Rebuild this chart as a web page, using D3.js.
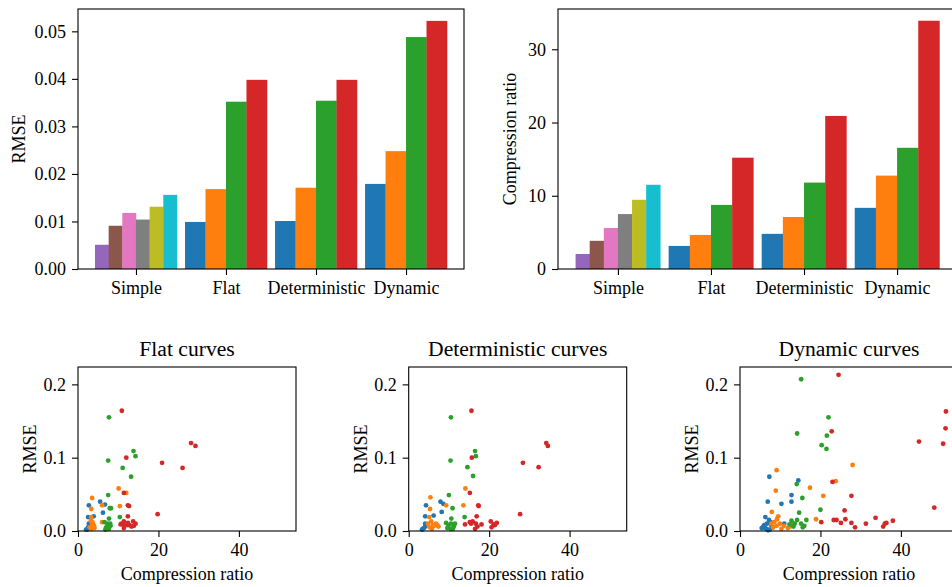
<!DOCTYPE html>
<html>
<head>
<meta charset="utf-8">
<script src="https://cdn.jsdelivr.net/npm/d3@7"></script>
<style>
  body { margin: 0; background: #fff; }
  svg { font-family: "Liberation Serif", serif; }
  .tick text { font-family: "Liberation Serif", serif; font-size: 18px; fill: #000; }
  .tick line { stroke: #000; stroke-width: 1.1; }
  .domain { display: none; }
</style>
</head>
<body>
<div id="wrapper"></div>
<script>
// bar charts
const groups = ["Simple", "Flat", "Deterministic", "Dynamic"];
const simpleColors = ["#9467bd", "#8c564b", "#e377c2", "#7f7f7f", "#bcbd22", "#17becf"];
const methodColors = ["#1f77b4", "#ff7f0e", "#2ca02c", "#d62728"];

const simpleRmse = [0.0051, 0.0091, 0.0118, 0.0104, 0.0131, 0.0156];
const flatRmse = [0.0099, 0.0168, 0.0352, 0.0398];
const detRmse = [0.0101, 0.0171, 0.0354, 0.0398];
const dynRmse = [0.0179, 0.0248, 0.0488, 0.0522];

const simpleRatio = [2.05, 3.85, 5.6, 7.5, 9.45, 11.5];
const flatRatio = [3.15, 4.65, 8.75, 15.2];
const detRatio = [4.8, 7.1, 11.8, 20.9];
const dynRatio = [8.35, 12.75, 16.55, 33.9];

const rmseTicks = [0, 0.01, 0.02, 0.03, 0.04, 0.05];
const ratioTicks = [0, 10, 20, 30];

// scatter panels: [compression ratio, RMSE]
const flatBlue = [[5.5,0.040],[6.7,0.036],[2.7,0.035],[6.2,0.025],[2.5,0.019],[3.9,0.020],[2.7,0.010],[2.3,0.002],[2.9,0.006],[2.5,0.005],[2.0,0.002],[3.2,0.008]];
const flatOrange = [[10.1,0.058],[12.0,0.052],[3.5,0.045],[10.4,0.034],[6.0,0.035],[3.3,0.030],[6.0,0.012],[3.3,0.019],[3.2,0.014],[3.5,0.010],[3.7,0.006],[3.3,0.003],[4.0,0.007],[2.9,0.005],[3.6,0.012],[4.1,0.004],[3.8,0.009]];
const flatGreen = [[7.7,0.155],[13.8,0.109],[14.3,0.102],[7.5,0.096],[11.1,0.086],[13.2,0.074],[7.5,0.049],[7.9,0.031],[8.2,0.031],[10.4,0.019],[7.7,0.017],[6.6,0.012],[7.3,0.010],[8.0,0.010],[7.0,0.005],[7.7,0.003],[8.1,0.007],[6.8,0.002],[7.5,0.006]];
const flatRed = [[10.9,0.164],[28.1,0.120],[29.2,0.116],[12.0,0.100],[20.9,0.093],[26.0,0.086],[11.4,0.052],[12.4,0.035],[12.7,0.034],[19.8,0.023],[12.4,0.020],[10.8,0.010],[11.4,0.013],[11.2,0.009],[12.2,0.008],[12.8,0.008],[13.7,0.013],[14.3,0.010],[13.9,0.007],[11.4,0.004],[13.3,0.006],[10.6,0.009],[12.4,0.011]];

const detBlue = [[7.9,0.040],[8.6,0.037],[4.3,0.035],[8.2,0.026],[4.1,0.020],[6.2,0.021],[4.1,0.010],[3.5,0.003],[4.1,0.006],[3.3,0.002],[3.8,0.004]];
const detOrange = [[14.1,0.058],[5.4,0.046],[13.6,0.035],[9.3,0.035],[5.3,0.030],[5.1,0.019],[4.8,0.010],[5.6,0.013],[6.3,0.007],[7.1,0.008],[7.4,0.006],[5.2,0.005],[5.8,0.003],[6.8,0.010],[6.0,0.008]];
const detGreen = [[10.5,0.155],[16.5,0.109],[16.7,0.102],[10.4,0.096],[14.6,0.087],[16.0,0.075],[10.0,0.049],[10.9,0.031],[13.9,0.019],[10.6,0.017],[9.3,0.011],[9.9,0.008],[10.5,0.010],[11.2,0.006],[11.5,0.010],[9.6,0.004],[10.4,0.003],[11.0,0.003]];
const detRed = [[15.6,0.164],[34.2,0.120],[34.6,0.116],[15.7,0.100],[28.4,0.093],[32.3,0.087],[15.2,0.052],[17.3,0.035],[17.4,0.034],[16.9,0.020],[27.7,0.023],[14.0,0.009],[15.2,0.012],[15.9,0.013],[16.7,0.010],[17.1,0.006],[18.1,0.009],[16.5,0.003],[15.5,0.010],[20.4,0.013],[21.1,0.009],[21.9,0.011],[20.6,0.005],[21.4,0.008]];

const dynBlue = [[7.3,0.074],[14.5,0.069],[12.8,0.049],[6.9,0.040],[12.8,0.040],[10.3,0.037],[6.3,0.019],[7.2,0.015],[11.0,0.010],[5.8,0.006],[6.2,0.004],[6.7,0.010],[7.4,0.002],[8.2,0.005],[5.4,0.004],[6.6,0.003],[7.8,0.007],[7.0,0.001],[6.0,0.008],[7.6,0.012]];
const dynOrange = [[28.0,0.090],[9.1,0.083],[23.8,0.068],[17.4,0.059],[8.9,0.055],[20.7,0.048],[7.9,0.026],[18.9,0.016],[9.5,0.020],[9.2,0.016],[7.8,0.010],[8.5,0.012],[9.1,0.007],[9.9,0.010],[10.9,0.007],[11.9,0.004],[13.2,0.010],[8.2,0.005],[10.3,0.003],[12.5,0.006]];
const dynGreen = [[15.2,0.207],[22.0,0.155],[14.2,0.133],[21.6,0.130],[20.3,0.117],[21.5,0.112],[14.1,0.064],[15.5,0.045],[14.7,0.025],[20.0,0.029],[12.8,0.014],[13.6,0.010],[14.2,0.015],[15.2,0.010],[16.0,0.007],[16.5,0.015],[12.3,0.009],[13.3,0.006],[15.6,0.005]];
const dynRed = [[24.5,0.213],[51.2,0.163],[51.1,0.140],[22.8,0.136],[44.5,0.122],[50.5,0.119],[23.0,0.067],[27.7,0.048],[48.3,0.032],[26.0,0.028],[20.2,0.012],[23.3,0.015],[24.0,0.015],[25.1,0.011],[26.2,0.016],[27.7,0.011],[28.6,0.005],[31.3,0.010],[33.7,0.018],[36.0,0.010],[36.4,0.011],[35.6,0.006],[38.0,0.014]];

const scatterTitles = ["Flat curves", "Deterministic curves", "Dynamic curves"];
const scatterXTicks = [0, 20, 40];
const scatterYTicks = [0, 0.1, 0.2];

const svg = d3.select("#wrapper").append("svg")
  .attr("width", 952)
  .attr("height", 587);

function barPanel(left, right, yMax, sets, ticks, fmt, label, labelX) {
  const top = 9, bottom = 269;
  const x = d3.scaleLinear().domain([-0.644, 3.644]).range([left, right]);
  const y = d3.scaleLinear().domain([0, yMax]).range([bottom, top]);
  const g = svg.append("g");

  sets.forEach((vals, gi) => {
    const cols = gi === 0 ? simpleColors : methodColors;
    const w = 0.91 / vals.length;
    g.selectAll(null)
      .data(vals)
      .join("rect")
      .attr("x", (d, i) => x(gi - 0.455 + i * w))
      .attr("width", (d, i) => x(gi - 0.455 + (i + 1) * w) - x(gi - 0.455 + i * w) + 0.3)
      .attr("y", d => y(d))
      .attr("height", d => y(0) - y(d))
      .attr("fill", (d, i) => cols[i]);
  });

  g.append("g")
    .attr("transform", `translate(0,${bottom})`)
    .call(d3.axisBottom(x).tickValues([0, 1, 2, 3]).tickFormat(i => groups[i]).tickSize(6).tickPadding(6));
  g.append("g")
    .attr("transform", `translate(${left},0)`)
    .call(d3.axisLeft(y).tickValues(ticks).tickFormat(fmt).tickSize(6).tickPadding(6));

  g.append("rect")
    .attr("x", left).attr("y", top)
    .attr("width", right - left).attr("height", bottom - top)
    .attr("fill", "none").attr("stroke", "#000").attr("stroke-width", 1.1);

  g.append("text")
    .attr("transform", `translate(${labelX},${(top + bottom) / 2}) rotate(-90)`)
    .attr("text-anchor", "middle")
    .attr("font-size", 18)
    .text(label);
}

barPanel(78, 464, 0.0547, [simpleRmse, flatRmse, detRmse, dynRmse], rmseTicks, d3.format(".2f"), "RMSE", 25);
barPanel(558, 957, 35.5, [simpleRatio, flatRatio, detRatio, dynRatio], ratioTicks, d3.format("d"), "Compression ratio", 516);

const scatterSets = [
  [flatBlue, flatOrange, flatGreen, flatRed],
  [detBlue, detOrange, detGreen, detRed],
  [dynBlue, dynOrange, dynGreen, dynRed]
];
const scatterLefts = [78, 408.7, 740];

scatterSets.forEach((sets, pi) => {
  const left = scatterLefts[pi], right = left + 218;
  const top = 367, bottom = 531;
  const x = d3.scaleLinear().domain([0, 54.2]).range([left, right]);
  const y = d3.scaleLinear().domain([0, 0.2237]).range([bottom, top]);
  const g = svg.append("g");

  sets.forEach((pts, ci) => {
    g.selectAll(null)
      .data(pts)
      .join("circle")
      .attr("cx", d => x(d[0]))
      .attr("cy", d => y(d[1]))
      .attr("r", 2.4)
      .attr("fill", methodColors[ci]);
  });

  g.append("g")
    .attr("transform", `translate(0,${bottom})`)
    .call(d3.axisBottom(x).tickValues(scatterXTicks).tickFormat(d3.format("d")).tickSize(6).tickPadding(6));
  g.append("g")
    .attr("transform", `translate(${left},0)`)
    .call(d3.axisLeft(y).tickValues(scatterYTicks).tickFormat(d3.format(".1f")).tickSize(6).tickPadding(6));

  g.append("rect")
    .attr("x", left).attr("y", top)
    .attr("width", right - left).attr("height", bottom - top)
    .attr("fill", "none").attr("stroke", "#000").attr("stroke-width", 1.1);

  g.append("text")
    .attr("x", (left + right) / 2).attr("y", 356)
    .attr("text-anchor", "middle")
    .attr("font-size", 21.6)
    .text(scatterTitles[pi]);

  g.append("text")
    .attr("x", (left + right) / 2).attr("y", 580)
    .attr("text-anchor", "middle")
    .attr("font-size", 18)
    .text("Compression ratio");

  g.append("text")
    .attr("transform", `translate(${left - 42},${(top + bottom) / 2}) rotate(-90)`)
    .attr("text-anchor", "middle")
    .attr("font-size", 18)
    .text("RMSE");
});
</script>
</body>
</html>
